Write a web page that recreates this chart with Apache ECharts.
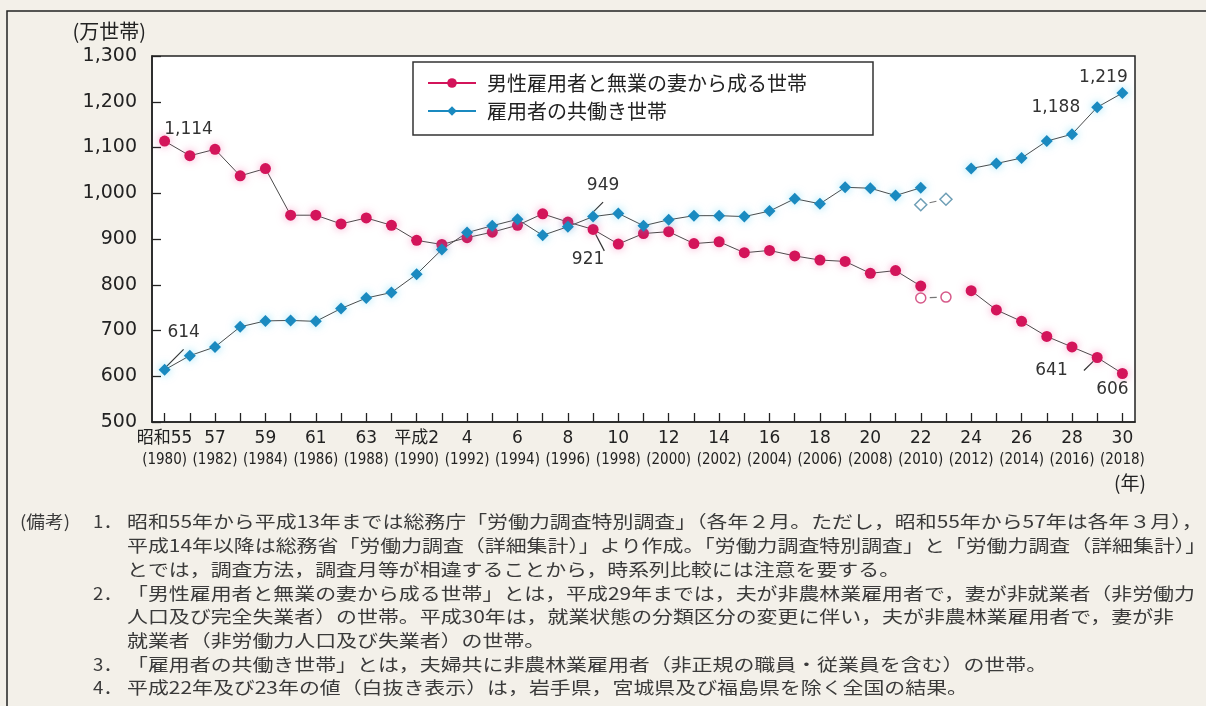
<!DOCTYPE html>
<html><head><meta charset="utf-8">
<script src="https://cdn.jsdelivr.net/npm/echarts@6/dist/echarts.min.js"></script>
<style>html,body{margin:0;padding:0;background:#f3f0e9;} #c{width:1206px;height:706px;}</style>
</head><body><div id="c"></div>
<script>
// ---- data ----
const years = ['1980','1981','1982','1983','1984','1985','1986','1987','1988','1989','1990','1991','1992','1993','1994','1995','1996','1997','1998','1999','2000','2001','2002','2003','2004','2005','2006','2007','2008','2009','2010','2011','2012','2013','2014','2015','2016','2017','2018'];
const eraLabels = ['昭和55','56','57','58','59','60','61','62','63','平成元','平成2','3','4','5','6','7','8','9','10','11','12','13','14','15','16','17','18','19','20','21','22','23','24','25','26','27','28','29','30'];
const wifeHome = [1114,1082,1096,1038,1054,952,952,933,946,930,897,888,903,915,930,955,937,921,889,912,916,890,894,870,875,863,854,851,825,831,797,null,787,745,720,687,664,641,606];
const dualIncome = [614,645,664,708,721,722,720,748,771,783,823,877,914,929,943,908,927,949,956,929,942,951,951,949,961,988,977,1013,1011,995,1012,null,1054,1065,1077,1114,1129,1188,1219];
const exclYears = ['2010','2011'];
const wifeHomeExcl = [771,773];
const dualIncomeExcl = [975,987];
const seriesNames = ['男性雇用者と無業の妻から成る世帯','雇用者の共働き世帯'];
const yAxisName = '(万世帯)';
const xUnit = '(年)';
const notes = [
  ['(備考)','1．','昭和55年から平成13年までは総務庁「労働力調査特別調査」（各年２月。ただし，昭和55年から57年は各年３月），'],
  ['','','平成14年以降は総務省「労働力調査（詳細集計）」より作成。「労働力調査特別調査」と「労働力調査（詳細集計）」'],
  ['','','とでは，調査方法，調査月等が相違することから，時系列比較には注意を要する。'],
  ['','2．','「男性雇用者と無業の妻から成る世帯」とは，平成29年までは，夫が非農林業雇用者で，妻が非就業者（非労働力'],
  ['','','人口及び完全失業者）の世帯。平成30年は，就業状態の分類区分の変更に伴い，夫が非農林業雇用者で，妻が非'],
  ['','','就業者（非労働力人口及び失業者）の世帯。'],
  ['','3．','「雇用者の共働き世帯」とは，夫婦共に非農林業雇用者（非正規の職員・従業員を含む）の世帯。'],
  ['','4．','平成22年及び23年の値（白抜き表示）は，岩手県，宮城県及び福島県を除く全国の結果。']
];

// ---- styling ----
const PINK = '#d3145a', BLUE = '#1a8ac0';
const fmt = v => Number(v).toLocaleString('en-US');
const labelFont = {fontSize:17, color:'#333', fontFamily:'DejaVu Sans'};
const wifeLabelCfg = {
  0:{position:'top', distance:2, offset:[24,4]},
  17:{position:'bottom', offset:[-5,11], line:true},
  37:{position:'left', offset:[-19,13], line:true},
  38:{position:'bottom', offset:[-10,-3]}
};
const dualLabelCfg = {
  0:{position:'top', offset:[19,-18], line:true},
  17:{position:'top', offset:[10,-12], line:true},
  37:{position:'left', offset:[-6,0]},
  38:{position:'top', offset:[-19,4]}
};
function buildData(vals, cfg){
  return vals.map((v,i)=>{
    const c = cfg[i];
    if (!c || v == null) return v;
    return {
      value: v,
      label: Object.assign({show:true, position:c.position, offset:c.offset, formatter:p=>fmt(p.value)}, c.distance!=null?{distance:c.distance}:{}, labelFont),
      labelLine: {show: !!c.line, lineStyle:{color:'#333', width:1.2}}
    };
  });
}
function exclData(vals){
  return years.map(y => { const k = exclYears.indexOf(y); return k >= 0 ? vals[k] : null; });
}

const chart = echarts.init(document.getElementById('c'), null, {renderer:'canvas'});
const NOTE_FONT = 'Noto Sans CJK JP';
const graphics = [
  {type:'rect', silent:true, z:-10, shape:{x:7,y:11,width:1230,height:730}, style:{fill:'#f3f0e9', stroke:'#222', lineWidth:1.5}},
  {type:'rect', silent:true, z:1, shape:{x:413,y:62,width:460,height:73}, style:{fill:'#fff', stroke:'#333', lineWidth:1.5}},
  {type:'text', silent:true, x:1130, y:483, style:{text:xUnit, fill:'#222', fontSize:19, fontFamily:NOTE_FONT, align:'center', verticalAlign:'middle'}}
];
notes.forEach((row,i)=>{
  const y = 522 + i*23.7;
  if (row[0]) graphics.push({type:'text', silent:true, x:20, y:y, scaleX:1.1, style:{text:row[0], fill:'#3a3a3a', fontSize:17, fontFamily:NOTE_FONT, verticalAlign:'middle'}});
  if (row[1]) graphics.push({type:'text', silent:true, x:93, y:y, scaleX:1.1, style:{text:row[1], fill:'#3a3a3a', fontSize:17, fontFamily:NOTE_FONT, verticalAlign:'middle'}});
  graphics.push({type:'text', silent:true, x:127, y:y, scaleX:1.23, style:{text:row[2], fill:'#3a3a3a', fontSize:17, fontFamily:NOTE_FONT, verticalAlign:'middle'}});
});

chart.setOption({
  animation:false,
  backgroundColor:'#f3f0e9',
  graphic: graphics,
  grid:{left:152, right:71, top:56, bottom:284, show:true, backgroundColor:'#fff', borderColor:'#222', borderWidth:1.5},
  legend:{
    data:[
      {name:seriesNames[0], lineStyle:{color:PINK, width:2}},
      {name:seriesNames[1], lineStyle:{color:BLUE, width:2}}
    ],
    left:427, top:73, orient:'vertical', itemGap:8, itemWidth:48, itemHeight:12, padding:0,
    textStyle:{fontSize:20, lineHeight:20, color:'#222', fontFamily:NOTE_FONT, padding:[0,0,0,6]}
  },
  xAxis:{
    type:'category', data:years, boundaryGap:true,
    axisLine:{lineStyle:{color:'#222', width:1.5}},
    axisTick:{show:true, inside:true, length:9, alignWithLabel:true, interval:0, lineStyle:{color:'#222', width:1.3}},
    axisLabel:{
      interval:1, margin:6,
      formatter:(v,i)=>'{a|'+eraLabels[i]+'}\n{b|('+v+')}',
      rich:{
        a:{fontSize:17, lineHeight:22, color:'#222', fontFamily:'DejaVu Sans, Noto Sans CJK JP'},
        b:{fontSize:15, lineHeight:20, color:'#222', fontFamily:'"DejaVu Sans Condensed", "Liberation Sans Narrow", sans-serif'}
      }
    }
  },
  yAxis:{
    type:'value', min:500, max:1300, interval:100,
    name:yAxisName, nameLocation:'end', nameGap:15,
    nameTextStyle:{fontSize:20, color:'#222', fontFamily:NOTE_FONT, align:'right', padding:[0,6,0,0]},
    axisLine:{show:true, lineStyle:{color:'#222', width:1.5}},
    axisTick:{show:true, inside:true, length:9, lineStyle:{color:'#222', width:1.3}},
    splitLine:{show:false},
    axisLabel:{fontSize:19, color:'#222', margin:15, fontFamily:'DejaVu Sans', formatter:v=>fmt(v)}
  },
  series:[
    {name:seriesNames[0], type:'line', data:buildData(wifeHome, wifeLabelCfg), connectNulls:false,
     symbol:'circle', symbolSize:11, color:PINK,
     itemStyle:{color:PINK, shadowBlur:8, shadowColor:'rgba(240,90,160,0.55)'},
     lineStyle:{color:'#4a4a4a', width:1}, z:3},
    {name:seriesNames[1], type:'line', data:buildData(dualIncome, dualLabelCfg), connectNulls:false,
     symbol:'diamond', symbolSize:12, color:BLUE,
     itemStyle:{color:BLUE, shadowBlur:8, shadowColor:'rgba(60,200,240,0.55)'},
     lineStyle:{color:'#4a4a4a', width:1}, z:3},
    {name:'excl-wife', type:'line', data:exclData(wifeHomeExcl), connectNulls:false,
     symbol:'circle', symbolSize:10, showSymbol:true,
     itemStyle:{color:'#fff', borderColor:'#d65a8a', borderWidth:1.5},
     lineStyle:{color:'#777', width:1.2, type:[0,9,7,100]}, z:3},
    {name:'excl-dual', type:'line', data:exclData(dualIncomeExcl), connectNulls:false,
     symbol:'diamond', symbolSize:12, showSymbol:true,
     itemStyle:{color:'#fff', borderColor:'#6f9fb6', borderWidth:1.5},
     lineStyle:{color:'#777', width:1.2, type:[0,9,7,100]}, z:3}
  ]
});
</script>
</body></html>
